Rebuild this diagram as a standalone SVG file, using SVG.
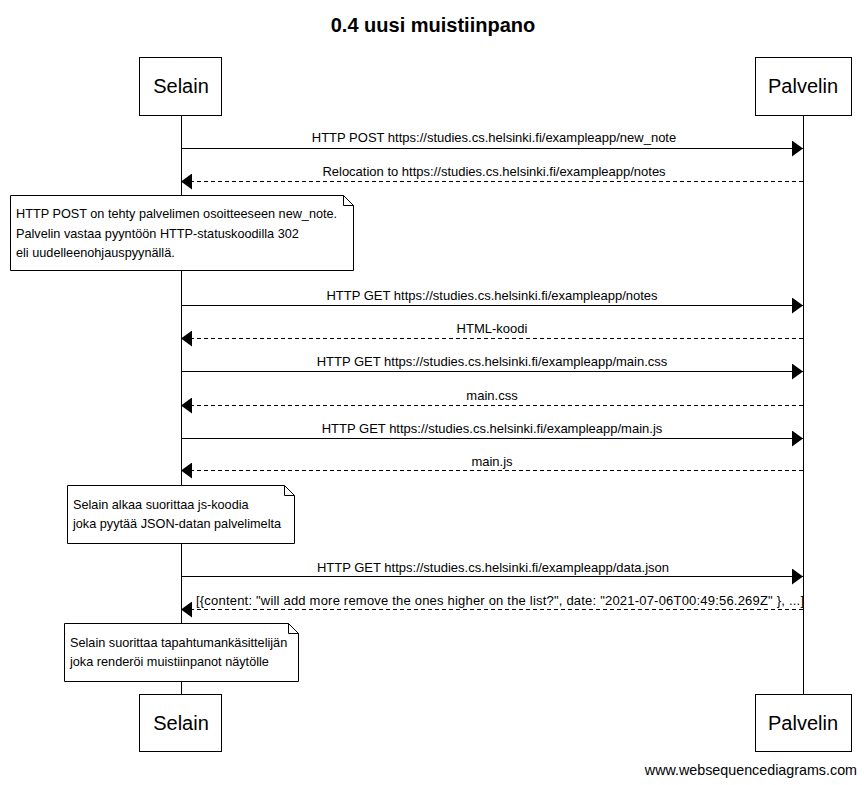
<svg xmlns="http://www.w3.org/2000/svg" width="866" height="785" viewBox="0 0 866 785">
  <style>
    text { font-family: "Liberation Sans", Arial, sans-serif; fill: #000; }
    .title { font-size: 20px; font-weight: bold; text-anchor: middle; }
    .actor rect { fill: #fff; stroke: #000; stroke-width: 1; }
    .actor text { font-size: 20px; text-anchor: middle; }
    .life { stroke: #000; stroke-width: 1; }
    .msg { stroke: #000; stroke-width: 1; fill: none; }
    .dash { stroke-dasharray: 4 3; }
    .lbl { font-size: 13px; text-anchor: middle; }
    .note path { fill: #fff; stroke: #000; stroke-width: 1; }
    .note text { font-size: 12.7px; }
    .foot { font-size: 14.3px; text-anchor: end; }
  </style>
  <defs>
    <marker id="head" markerWidth="12" markerHeight="16" viewBox="0 0 12 16" refX="11" refY="8" orient="auto" markerUnits="userSpaceOnUse">
      <path d="M0,0 L11,8 L0,16 Z" fill="#000"/>
    </marker>
  </defs>

  <rect width="866" height="785" fill="#fff"/>
  <text class="title" x="433" y="32">0.4 uusi muistiinpano</text>

  <!-- lifelines -->
  <g id="lifelines">
    <line class="life" x1="181.5" y1="115" x2="181.5" y2="694"/>
    <line class="life" x1="803.5" y1="115" x2="803.5" y2="694"/>
  </g>

  <!-- participants -->
  <g id="selain-top" class="actor">
    <rect x="139.5" y="57.5" width="82" height="58"/>
    <text x="181" y="93">Selain</text>
  </g>
  <g id="palvelin-top" class="actor">
    <rect x="755.5" y="57.5" width="96" height="58"/>
    <text x="803" y="93">Palvelin</text>
  </g>
  <g id="selain-bottom" class="actor">
    <rect x="139.5" y="694.5" width="82" height="57"/>
    <text x="181" y="730">Selain</text>
  </g>
  <g id="palvelin-bottom" class="actor">
    <rect x="755.5" y="694.5" width="96" height="57"/>
    <text x="803" y="730">Palvelin</text>
  </g>

  <!-- messages -->
  <g id="connectors">
    <line class="msg" x1="181" y1="148.5" x2="803" y2="148.5" marker-end="url(#head)"/>
    <text class="lbl" x="494" y="142">HTTP POST https://studies.cs.helsinki.fi/exampleapp/new_note</text>

    <line class="msg dash" x1="803" y1="181.5" x2="181" y2="181.5" marker-end="url(#head)"/>
    <text class="lbl" x="494" y="176">Relocation to https://studies.cs.helsinki.fi/exampleapp/notes</text>

    <line class="msg" x1="181" y1="305.5" x2="803" y2="305.5" marker-end="url(#head)"/>
    <text class="lbl" x="492" y="300">HTTP GET https://studies.cs.helsinki.fi/exampleapp/notes</text>

    <line class="msg dash" x1="803" y1="338.5" x2="181" y2="338.5" marker-end="url(#head)"/>
    <text class="lbl" x="492" y="333">HTML-koodi</text>

    <line class="msg" x1="181" y1="371.5" x2="803" y2="371.5" marker-end="url(#head)"/>
    <text class="lbl" x="492" y="366">HTTP GET https://studies.cs.helsinki.fi/exampleapp/main.css</text>

    <line class="msg dash" x1="803" y1="405.5" x2="181" y2="405.5" marker-end="url(#head)"/>
    <text class="lbl" x="492" y="400">main.css</text>

    <line class="msg" x1="181" y1="438.5" x2="803" y2="438.5" marker-end="url(#head)"/>
    <text class="lbl" x="492" y="433">HTTP GET https://studies.cs.helsinki.fi/exampleapp/main.js</text>

    <line class="msg dash" x1="803" y1="470.5" x2="181" y2="470.5" marker-end="url(#head)"/>
    <text class="lbl" x="492" y="466">main.js</text>

    <line class="msg" x1="181" y1="576.5" x2="803" y2="576.5" marker-end="url(#head)"/>
    <text class="lbl" x="493" y="572">HTTP GET https://studies.cs.helsinki.fi/exampleapp/data.json</text>

    <line class="msg dash" x1="803" y1="609.5" x2="181" y2="609.5" marker-end="url(#head)"/>
    <text class="lbl" x="500" y="605" textLength="608" lengthAdjust="spacing">[{content: "will add more remove the ones higher on the list?", date: "2021-07-06T00:49:56.269Z"  }, ...]</text>
  </g>

  <!-- notes -->
  <g id="note-redirect" class="note">
    <path d="M10.5,195.5 H343.5 L353.5,205.5 V270.5 H10.5 Z M343.5,195.5 V205.5 H353.5"/>
    <text x="16" y="218">HTTP POST on tehty palvelimen osoitteeseen new_note.</text>
    <text x="16" y="238">Palvelin vastaa pyyntöön HTTP-statuskoodilla 302</text>
    <text x="16" y="257">eli uudelleenohjauspyynällä.</text>
  </g>
  <g id="note-js" class="note">
    <path d="M67.5,485.5 H284.5 L294.5,495.5 V543.5 H67.5 Z M284.5,485.5 V495.5 H294.5"/>
    <text x="73" y="509">Selain alkaa suorittaa js-koodia</text>
    <text x="73" y="528">joka pyytää JSON-datan palvelimelta</text>
  </g>
  <g id="note-render" class="note">
    <path d="M64.5,623.5 H288.5 L298.5,633.5 V681.5 H64.5 Z M288.5,623.5 V633.5 H298.5"/>
    <text x="70" y="647">Selain suorittaa tapahtumankäsittelijän</text>
    <text x="70" y="666">joka renderöi muistiinpanot näytölle</text>
  </g>

  <text class="foot" x="857" y="775">www.websequencediagrams.com</text>
</svg>
